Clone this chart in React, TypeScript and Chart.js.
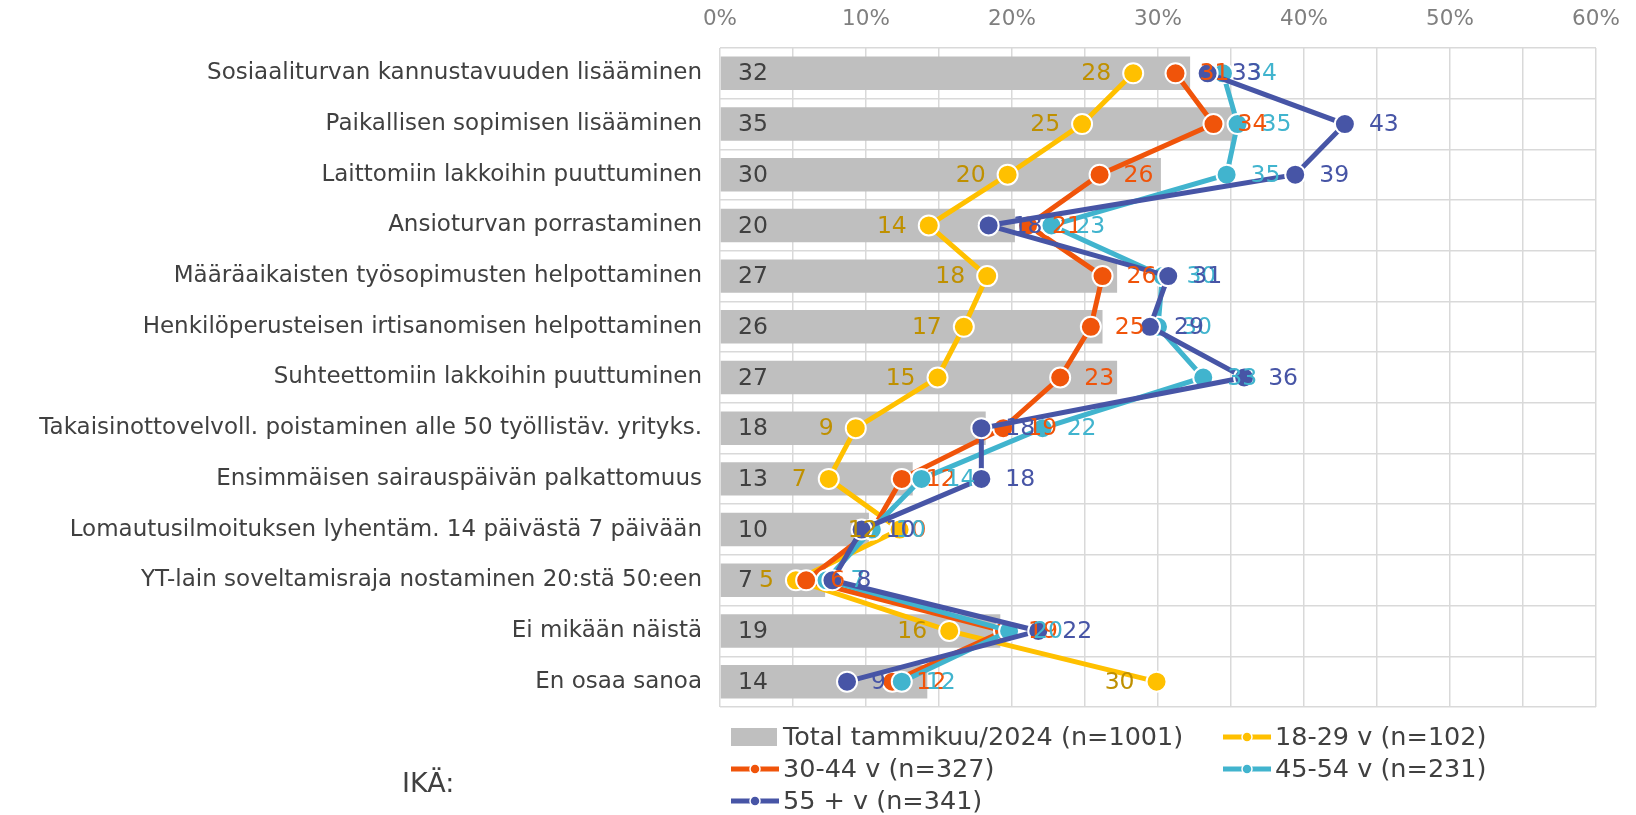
import React, { useEffect, useRef } from 'react';
import { Chart, registerables } from 'chart.js';

Chart.register(...registerables);

const categories = [
  'Sosiaaliturvan kannustavuuden lisääminen',
  'Paikallisen sopimisen lisääminen',
  'Laittomiin lakkoihin puuttuminen',
  'Ansioturvan porrastaminen',
  'Määräaikaisten työsopimusten helpottaminen',
  'Henkilöperusteisen irtisanomisen helpottaminen',
  'Suhteettomiin lakkoihin puuttuminen',
  'Takaisinottovelvoll. poistaminen alle 50 työllistäv. yrityks.',
  'Ensimmäisen sairauspäivän palkattomuus',
  'Lomautusilmoituksen lyhentäm. 14 päivästä 7 päivään',
  'YT-lain soveltamisraja nostaminen 20:stä 50:een',
  'Ei mikään näistä',
  'En osaa sanoa',
];

const totalValues = [32.2, 35.2, 30.2, 20.2, 27.2, 26.2, 27.2, 18.2, 13.2, 10.2, 7.2, 19.2, 14.2];
const age1829 = [28.3, 24.8, 19.7, 14.3, 18.3, 16.7, 14.9, 9.3, 7.45, 12.3, 5.2, 15.7, 29.9];
const age3044 = [31.2, 33.8, 26.0, 21.1, 26.2, 25.4, 23.3, 19.4, 12.45, 10.45, 5.9, 19.45, 11.8];
const age4554 = [34.45, 35.45, 34.7, 22.7, 30.3, 30.0, 33.1, 22.1, 13.8, 10.4, 7.3, 19.8, 12.45];
const age55 = [33.4, 42.8, 39.4, 18.4, 30.7, 29.45, 35.9, 17.9, 17.9, 9.7, 7.7, 21.8, 8.7];

const seriesNames = [
  'Total tammikuu/2024 (n=1001)',
  '18-29 v (n=102)',
  '30-44 v (n=327)',
  '45-54 v (n=231)',
  '55 + v (n=341)',
];
const groupTitle = 'IKÄ:';
const tickValues = [0, 10, 20, 30, 40, 50, 60];

const FONT = '"DejaVu Sans", Verdana, sans-serif';
const FS_CAT = 23;
const FS_TICK = 21.5;
const FS_LABEL = 23.5;
const FS_LEGEND = 25.5;
const FS_TITLE = 27;
const BAR_COLOR = '#BFBFBF';
const LINE_COLORS = ['#FFC000', '#F0540A', '#41B4CE', '#4755A6'];
const LABEL_COLORS = ['#BF9000', '#F0540A', '#41B4CE', '#4755A6'];
const TEXT = '#404040';

const labelPlugin = {
  id: 'valueLabels',
  afterDatasetsDraw(chart: any) {
    const ctx = chart.ctx;
    ctx.save();
    ctx.font = `${FS_LABEL}px ${FONT}`;
    ctx.textBaseline = 'middle';
    const barMeta = chart.getDatasetMeta(0);
    barMeta.data.forEach((el: any, i: number) => {
      ctx.fillStyle = TEXT;
      ctx.textAlign = 'left';
      ctx.fillText(String(Math.round(totalValues[i])), chart.chartArea.left + 18, el.y + 1);
    });
    const lineSets = [age1829, age3044, age4554, age55];
    lineSets.forEach((vals, s) => {
      const meta = chart.getDatasetMeta(s + 1);
      meta.data.forEach((el: any, i: number) => {
        ctx.fillStyle = LABEL_COLORS[s];
        const t = String(Math.round(vals[i]));
        if (s === 0) {
          ctx.textAlign = 'right';
          ctx.fillText(t, el.x - 22, el.y + 1);
        } else {
          ctx.textAlign = 'left';
          ctx.fillText(t, el.x + 24, el.y + 1);
        }
      });
    });
    ctx.restore();
  },
};

const legendPlugin = {
  id: 'customLegend',
  afterDraw(chart: any) {
    const ctx = chart.ctx;
    ctx.save();
    ctx.font = `${FS_LEGEND}px ${FONT}`;
    ctx.textBaseline = 'middle';
    ctx.textAlign = 'left';
    const colX = [731, 1223];
    const rowY = [737, 769, 801];
    const iconW = 48;
    seriesNames.forEach((name, i) => {
      const x = colX[i % 2];
      const y = rowY[Math.floor(i / 2)];
      if (i === 0) {
        ctx.fillStyle = BAR_COLOR;
        ctx.fillRect(x, y - 9, 46, 18);
      } else {
        const c = LINE_COLORS[i - 1];
        ctx.strokeStyle = c;
        ctx.lineWidth = 5;
        ctx.beginPath();
        ctx.moveTo(x, y);
        ctx.lineTo(x + iconW, y);
        ctx.stroke();
        ctx.beginPath();
        ctx.arc(x + iconW / 2, y, 5, 0, Math.PI * 2);
        ctx.fillStyle = c;
        ctx.fill();
        ctx.strokeStyle = '#FFFFFF';
        ctx.lineWidth = 1.5;
        ctx.stroke();
      }
      ctx.fillStyle = TEXT;
      ctx.fillText(name, x + 52, y + 1);
    });
    ctx.font = `${FS_TITLE}px ${FONT}`;
    ctx.fillText(groupTitle, 402, 785);
    ctx.restore();
  },
};

function makeLine(label: string, data: number[], color: string, order: number) {
  return {
    type: 'line' as const,
    label,
    data,
    borderColor: color,
    backgroundColor: color,
    borderWidth: 5,
    pointRadius: 10,
    pointHoverRadius: 10,
    pointBackgroundColor: color,
    pointBorderColor: '#FFFFFF',
    pointBorderWidth: 2,
    tension: 0,
    order,
  };
}

export default function App() {
  const ref = useRef<HTMLCanvasElement | null>(null);
  useEffect(() => {
    if (!ref.current) return;
    const chart = new Chart(ref.current, {
      type: 'bar',
      data: {
        labels: categories,
        datasets: [
          {
            type: 'bar',
            label: seriesNames[0],
            data: totalValues,
            backgroundColor: BAR_COLOR,
            barPercentage: 0.66,
            categoryPercentage: 1,
            order: 10,
          } as any,
          makeLine(seriesNames[1], age1829, LINE_COLORS[0], 4),
          makeLine(seriesNames[2], age3044, LINE_COLORS[1], 3),
          makeLine(seriesNames[3], age4554, LINE_COLORS[2], 2),
          makeLine(seriesNames[4], age55, LINE_COLORS[3], 1),
        ],
      },
      options: {
        indexAxis: 'y',
        responsive: false,
        animation: false,
        layout: { padding: { left: 0, right: 40, top: 0, bottom: 108 } },
        plugins: { legend: { display: false }, tooltip: { enabled: false } },
        scales: {
          x: {
            type: 'linear',
            position: 'top',
            min: 0,
            max: 60,
            afterFit: (s: any) => { s.height = 48; },
            afterBuildTicks: (s: any) => {
              const t: any[] = [];
              for (let v = 0; v <= 60; v += 5) t.push({ value: v });
              s.ticks = t;
            },
            ticks: {
              autoSkip: false,
              maxRotation: 0,
              padding: 16,
              color: '#7F7F7F',
              font: { family: FONT, size: FS_TICK },
              callback: (v: any) => (tickValues.includes(Number(v)) ? `${v}%` : ''),
            },
            grid: { color: '#D9D9D9', lineWidth: 1.5, drawTicks: false },
            border: { display: false },
          },
          y: {
            type: 'category',
            offset: true,
            afterFit: (s: any) => { s.width = 720; },
            ticks: {
              autoSkip: false,
              padding: 18,
              color: TEXT,
              font: { family: FONT, size: FS_CAT },
            },
            grid: { color: '#D9D9D9', lineWidth: 1.5, drawTicks: false, offset: true },
            border: { display: false },
          },
        },
      } as any,
      plugins: [labelPlugin, legendPlugin],
    });
    return () => chart.destroy();
  }, []);
  return (
    <div style={{ position: 'absolute', left: 0, top: 0, width: 1636, height: 815, background: '#fff' }}>
      <canvas ref={ref} width={1636} height={815} style={{ display: 'block' }} />
    </div>
  );
}
